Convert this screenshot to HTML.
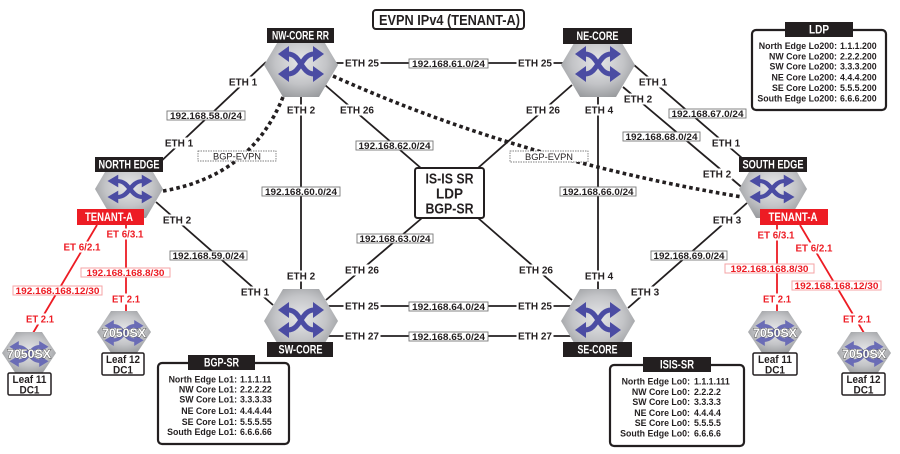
<!DOCTYPE html>
<html><head><meta charset="utf-8"><style>
body{margin:0;background:#fff}
svg{display:block}
text{font-family:"Liberation Sans",Arial,sans-serif}
.e{font-size:10px;font-weight:bold;fill:#231f20;text-anchor:middle}
.r{font-size:10px;font-weight:bold;fill:#ed1c24;text-anchor:middle}
.ip{font-size:9px;font-weight:bold;fill:#231f20;text-anchor:middle}
.ev{font-size:9.5px;fill:#231f20;text-anchor:middle}
.ipr{font-size:9px;font-weight:bold;fill:#ed1c24;text-anchor:middle}
.nl{font-size:11.5px;font-weight:bold;fill:#fff;text-anchor:middle}
.bl{font-size:8.8px;font-weight:bold;fill:#231f20;text-anchor:end}
.bv{font-size:8.8px;font-weight:bold;fill:#231f20}
.lf{font-size:11px;font-weight:bold;fill:#231f20;text-anchor:middle}
.sx{font-size:12px;font-weight:bold;fill:#fff;stroke:#555;stroke-width:0.9;paint-order:stroke;text-anchor:middle}
</style></head><body>
<svg width="900" height="454" viewBox="0 0 900 454" xmlns="http://www.w3.org/2000/svg">
<defs>
<radialGradient id="hg" cx="50%" cy="45%" r="58%">
<stop offset="0" stop-color="#e6e7e9"/><stop offset="0.6" stop-color="#c3c4c7"/><stop offset="1" stop-color="#9a9c9f"/>
</radialGradient>
<g id="ico">
<path d="M-13,-10 C0,-10 0,10 13,10 M-13,10 C0,10 0,-10 13,-10" fill="none" stroke-width="5"/>
<path stroke="none" d="M-23,-10 L-12,-18 L-12,-2Z M23,-10 L12,-18 L12,-2Z M-23,10 L-12,2 L-12,18Z M23,10 L12,2 L12,18Z"/>
</g>
</defs>
<rect width="900" height="454" fill="#fff"/>

<g stroke="#231f20" stroke-width="1.8" fill="none">
<line x1="266" y1="62" x2="155" y2="167"/>
<line x1="325" y1="85" x2="422" y2="169"/>
<line x1="301" y1="90" x2="301" y2="295"/>
<line x1="320" y1="63" x2="580" y2="63"/>
<line x1="572" y1="85" x2="478" y2="168"/>
<line x1="598" y1="90" x2="598" y2="295"/>
<line x1="634" y1="65" x2="742" y2="158"/>
<line x1="623" y1="87" x2="745" y2="190"/>
<line x1="747" y1="203" x2="628" y2="308"/>
<line x1="156" y1="202" x2="273" y2="305"/>
<line x1="326" y1="300" x2="422" y2="218"/>
<line x1="572" y1="300" x2="478" y2="218"/>
<line x1="320" y1="306" x2="580" y2="306"/>
<line x1="320" y1="336" x2="580" y2="336"/>
</g>
<g stroke="#ed1c24" stroke-width="1.8">
<line x1="97" y1="225" x2="33" y2="333"/>
<line x1="126" y1="225" x2="126" y2="312"/>
<line x1="777" y1="225" x2="777" y2="312"/>
<line x1="800" y1="225" x2="864" y2="333"/>
</g>
<g stroke="#231f20" stroke-width="3.6" stroke-dasharray="3.6 3.2" fill="none">
<path d="M283,97 Q251,176 163,191"/>
<path d="M333,76 Q520,160 742,197"/>
</g>

<rect x="198" y="151" width="78" height="10" fill="#fff" stroke="#555" stroke-width="0.7" stroke-dasharray="1.5 1"/>
<text x="237" y="159.5" class="ev" textLength="48" lengthAdjust="spacingAndGlyphs">BGP-EVPN</text>
<rect x="510" y="151" width="78" height="11" fill="#fff" stroke="#555" stroke-width="0.7" stroke-dasharray="1.5 1"/>
<text x="549" y="160" class="ev" textLength="48" lengthAdjust="spacingAndGlyphs">BGP-EVPN</text>

<g fill="#fff" stroke="#777" stroke-width="0.9">
<rect x="167" y="111" width="78" height="9"/>
<rect x="262" y="187" width="78" height="9"/>
<rect x="356" y="141" width="77" height="9"/>
<rect x="409" y="59" width="79" height="9"/>
<rect x="560" y="187" width="76" height="9"/>
<rect x="669" y="109" width="77" height="9"/>
<rect x="623" y="132" width="77" height="9"/>
<rect x="651" y="251" width="76" height="9"/>
<rect x="170" y="251" width="77" height="9"/>
<rect x="357" y="234" width="76" height="9"/>
<rect x="409" y="302" width="79" height="9"/>
<rect x="409" y="332" width="79" height="9"/>
</g>
<g class="ip">
<text x="206" y="119" textLength="72" lengthAdjust="spacingAndGlyphs">192.168.58.0/24</text>
<text x="301" y="195" textLength="72" lengthAdjust="spacingAndGlyphs">192.168.60.0/24</text>
<text x="394.5" y="149" textLength="72" lengthAdjust="spacingAndGlyphs">192.168.62.0/24</text>
<text x="448.5" y="67" textLength="73" lengthAdjust="spacingAndGlyphs">192.168.61.0/24</text>
<text x="598" y="195" textLength="71" lengthAdjust="spacingAndGlyphs">192.168.66.0/24</text>
<text x="707.5" y="117" textLength="72" lengthAdjust="spacingAndGlyphs">192.168.67.0/24</text>
<text x="661.5" y="140" textLength="72" lengthAdjust="spacingAndGlyphs">192.168.68.0/24</text>
<text x="689" y="259" textLength="71" lengthAdjust="spacingAndGlyphs">192.168.69.0/24</text>
<text x="208.5" y="259" textLength="72" lengthAdjust="spacingAndGlyphs">192.168.59.0/24</text>
<text x="395" y="242" textLength="71" lengthAdjust="spacingAndGlyphs">192.168.63.0/24</text>
<text x="448.5" y="310" textLength="73" lengthAdjust="spacingAndGlyphs">192.168.64.0/24</text>
<text x="448.5" y="340" textLength="73" lengthAdjust="spacingAndGlyphs">192.168.65.0/24</text>
</g>

<g fill="#fff" stroke="#f5a3a6" stroke-width="1">
<rect x="13" y="286" width="89" height="9"/>
<rect x="81" y="268" width="89" height="9"/>
<rect x="725" y="264" width="89" height="9"/>
<rect x="792" y="281" width="89" height="9"/>
</g>
<g class="ipr">
<text x="57.5" y="294" textLength="84" lengthAdjust="spacingAndGlyphs">192.168.168.12/30</text>
<text x="125.5" y="276" textLength="78" lengthAdjust="spacingAndGlyphs">192.168.168.8/30</text>
<text x="769.5" y="272" textLength="78" lengthAdjust="spacingAndGlyphs">192.168.168.8/30</text>
<text x="836.5" y="289" textLength="84" lengthAdjust="spacingAndGlyphs">192.168.168.12/30</text>
</g>

<g fill="#fff">
<rect x="227.5" y="76.5" width="31" height="11"/>
<rect x="163.5" y="137.5" width="31" height="11"/>
<rect x="285.5" y="104.5" width="31" height="11"/>
<rect x="338.5" y="104.5" width="37" height="11"/>
<rect x="343.5" y="57.5" width="37" height="11"/>
<rect x="516.5" y="57.5" width="37" height="11"/>
<rect x="524.5" y="104.5" width="37" height="11"/>
<rect x="583.5" y="104.5" width="31" height="11"/>
<rect x="637.5" y="76.5" width="31" height="11"/>
<rect x="622.5" y="93.5" width="31" height="11"/>
<rect x="710.5" y="137.5" width="31" height="11"/>
<rect x="701.5" y="168.5" width="31" height="11"/>
<rect x="711.5" y="214.5" width="31" height="11"/>
<rect x="161.5" y="214.5" width="31" height="11"/>
<rect x="239.5" y="286.5" width="31" height="11"/>
<rect x="285.5" y="270.5" width="31" height="11"/>
<rect x="343.5" y="264.5" width="37" height="11"/>
<rect x="343.5" y="300.5" width="37" height="11"/>
<rect x="343.5" y="330.5" width="37" height="11"/>
<rect x="517.5" y="264.5" width="37" height="11"/>
<rect x="583.5" y="270.5" width="31" height="11"/>
<rect x="629.5" y="286.5" width="31" height="11"/>
<rect x="516.5" y="300.5" width="37" height="11"/>
<rect x="516.5" y="330.5" width="37" height="11"/>
<rect x="62" y="241.5" width="40" height="11"/>
<rect x="24" y="313.5" width="32" height="11"/>
<rect x="105" y="228.5" width="40" height="11"/>
<rect x="110" y="293.5" width="32" height="11"/>
<rect x="756" y="229.5" width="40" height="11"/>
<rect x="761" y="293.5" width="32" height="11"/>
<rect x="794" y="242.5" width="40" height="11"/>
<rect x="841" y="313.5" width="32" height="11"/>
</g>
<g class="e">
<text x="243" y="85.6">ETH 1</text>
<text x="179" y="146.6">ETH 1</text>
<text x="301" y="113.6">ETH 2</text>
<text x="357" y="113.6">ETH 26</text>
<text x="362" y="66.6">ETH 25</text>
<text x="535" y="66.6">ETH 25</text>
<text x="543" y="113.6">ETH 26</text>
<text x="599" y="113.6">ETH 4</text>
<text x="653" y="85.6">ETH 1</text>
<text x="638" y="102.6">ETH 2</text>
<text x="726" y="146.6">ETH 1</text>
<text x="717" y="177.6">ETH 2</text>
<text x="727" y="223.6">ETH 3</text>
<text x="177" y="223.6">ETH 2</text>
<text x="255" y="295.6">ETH 1</text>
<text x="301" y="279.6">ETH 2</text>
<text x="362" y="273.6">ETH 26</text>
<text x="362" y="309.6">ETH 25</text>
<text x="362" y="339.6">ETH 27</text>
<text x="536" y="273.6">ETH 26</text>
<text x="599" y="279.6">ETH 4</text>
<text x="645" y="295.6">ETH 3</text>
<text x="535" y="309.6">ETH 25</text>
<text x="535" y="339.6">ETH 27</text>
</g>
<g class="r">
<text x="82" y="250.6" textLength="37" lengthAdjust="spacingAndGlyphs">ET 6/2.1</text>
<text x="40" y="322.6" textLength="28" lengthAdjust="spacingAndGlyphs">ET 2.1</text>
<text x="125" y="237.6" textLength="37" lengthAdjust="spacingAndGlyphs">ET 6/3.1</text>
<text x="126" y="302.6" textLength="28" lengthAdjust="spacingAndGlyphs">ET 2.1</text>
<text x="776" y="238.6" textLength="37" lengthAdjust="spacingAndGlyphs">ET 6/3.1</text>
<text x="777" y="302.6" textLength="28" lengthAdjust="spacingAndGlyphs">ET 2.1</text>
<text x="814" y="251.6" textLength="37" lengthAdjust="spacingAndGlyphs">ET 6/2.1</text>
<text x="857" y="322.6" textLength="28" lengthAdjust="spacingAndGlyphs">ET 2.1</text>
</g>

<g fill="url(#hg)">
<polygon points="264,65 283,33 319,33 338,65 319,97 283,97"/>
<polygon points="561,65 580,33 616,33 635,65 616,97 580,97"/>
<polygon points="264,321 283,289 319,289 338,321 319,353 283,353"/>
<polygon points="561,321 580,289 616,289 635,321 616,353 580,353"/>
<polygon points="95,189 112,160 146,160 163,189 146,218 112,218"/>
<polygon points="739,189 756,160 790,160 807,189 790,218 756,218"/>
<polygon points="2,353 16,332 42,332 56,353 42,374 16,374"/>
<polygon points="97,332 111,311 137,311 151,332 137,353 111,353"/>
<polygon points="748,332 762,311 788,311 802,332 788,353 762,353"/>
<polygon points="837,353 851,332 877,332 891,353 877,374 851,374"/>
</g>
<g fill="#4b4ca3" stroke="#4b4ca3">
<use href="#ico" transform="translate(301,64)"/>
<use href="#ico" transform="translate(598,64)"/>
<use href="#ico" transform="translate(301,320)"/>
<use href="#ico" transform="translate(598,320)"/>
<use href="#ico" transform="translate(130,189) scale(0.98,0.8)"/>
<use href="#ico" transform="translate(772,189) scale(0.98,0.8)"/>
</g>
<g fill="#6a6cb6" stroke="#6a6cb6">
<use href="#ico" transform="translate(29,354) scale(0.85,0.72)"/>
<use href="#ico" transform="translate(124,333) scale(0.85,0.72)"/>
<use href="#ico" transform="translate(775,333) scale(0.85,0.72)"/>
<use href="#ico" transform="translate(864,354) scale(0.85,0.72)"/>
</g>
<g class="sx">
<text x="29" y="358" textLength="44" lengthAdjust="spacingAndGlyphs">7050SX</text>
<text x="124" y="337" textLength="44" lengthAdjust="spacingAndGlyphs">7050SX</text>
<text x="775" y="337" textLength="44" lengthAdjust="spacingAndGlyphs">7050SX</text>
<text x="864" y="358" textLength="44" lengthAdjust="spacingAndGlyphs">7050SX</text>
</g>

<g fill="#fff" stroke="#231f20" stroke-width="1.5">
<rect x="8" y="373" width="43" height="22" rx="1.5"/>
<rect x="102" y="353" width="42" height="22" rx="1.5"/>
<rect x="753" y="353" width="44" height="22" rx="1.5"/>
<rect x="842" y="373" width="43" height="22" rx="1.5"/>
</g>
<g class="lf">
<text x="29.5" y="383" textLength="34" lengthAdjust="spacingAndGlyphs">Leaf 11</text>
<text x="29.5" y="393.5" textLength="20" lengthAdjust="spacingAndGlyphs">DC1</text>
<text x="123" y="363" textLength="34" lengthAdjust="spacingAndGlyphs">Leaf 12</text>
<text x="123" y="373.5" textLength="20" lengthAdjust="spacingAndGlyphs">DC1</text>
<text x="775" y="363" textLength="34" lengthAdjust="spacingAndGlyphs">Leaf 11</text>
<text x="775" y="373.5" textLength="20" lengthAdjust="spacingAndGlyphs">DC1</text>
<text x="863.5" y="383" textLength="34" lengthAdjust="spacingAndGlyphs">Leaf 12</text>
<text x="863.5" y="393.5" textLength="20" lengthAdjust="spacingAndGlyphs">DC1</text>
</g>

<g fill="#231f20">
<rect x="267" y="28" width="67" height="15"/>
<rect x="563" y="28" width="69" height="16"/>
<rect x="95" y="157" width="68" height="15"/>
<rect x="739" y="157" width="68" height="15"/>
<rect x="267" y="342" width="66" height="15"/>
<rect x="563" y="342" width="69" height="15"/>
</g>
<g fill="#ed1c24">
<rect x="77" y="209" width="67" height="16"/>
<rect x="760" y="209" width="68" height="16"/>
</g>
<g class="nl">
<text x="300.5" y="39.5" textLength="57" lengthAdjust="spacingAndGlyphs">NW-CORE RR</text>
<text x="597.5" y="40" textLength="42" lengthAdjust="spacingAndGlyphs">NE-CORE</text>
<text x="129" y="168.5" textLength="61" lengthAdjust="spacingAndGlyphs">NORTH EDGE</text>
<text x="773" y="168.5" textLength="61" lengthAdjust="spacingAndGlyphs">SOUTH EDGE</text>
<text x="300.5" y="353.5" textLength="44" lengthAdjust="spacingAndGlyphs">SW-CORE</text>
<text x="597.5" y="353.5" textLength="40" lengthAdjust="spacingAndGlyphs">SE-CORE</text>
<text x="109" y="221" textLength="48" lengthAdjust="spacingAndGlyphs">TENANT-A</text>
<text x="793" y="221" textLength="49" lengthAdjust="spacingAndGlyphs">TENANT-A</text>
</g>

<rect x="373" y="10" width="151" height="19" rx="3" fill="#fff" stroke="#231f20" stroke-width="2"/>
<text x="449.5" y="25" font-size="15" font-weight="bold" fill="#231f20" text-anchor="middle" textLength="141" lengthAdjust="spacingAndGlyphs">EVPN IPv4 (TENANT-A)</text>

<rect x="415" y="168" width="69" height="50" rx="2.5" fill="#fff" stroke="#231f20" stroke-width="2"/>
<g font-size="15" font-weight="bold" fill="#231f20" text-anchor="middle">
<text x="449.5" y="183.5" textLength="48" lengthAdjust="spacingAndGlyphs">IS-IS SR</text>
<text x="449.5" y="198.5" textLength="27" lengthAdjust="spacingAndGlyphs">LDP</text>
<text x="449.5" y="213.5" textLength="48" lengthAdjust="spacingAndGlyphs">BGP-SR</text>
</g>

<rect x="752" y="30" width="134" height="80" rx="4" fill="#fff" stroke="#231f20" stroke-width="2.2"/>
<rect x="785" y="22" width="68" height="15" fill="#231f20"/>
<text x="819" y="33.5" class="nl" textLength="20" lengthAdjust="spacingAndGlyphs">LDP</text>
<g>
<text x="837" y="49" class="bl">North Edge Lo200:</text><text x="840" y="49" class="bv">1.1.1.200</text>
<text x="837" y="59.3" class="bl">NW Core Lo200:</text><text x="840" y="59.3" class="bv">2.2.2.200</text>
<text x="837" y="69.3" class="bl">SW Core Lo200:</text><text x="840" y="69.3" class="bv">3.3.3.200</text>
<text x="837" y="80.6" class="bl">NE Core Lo200:</text><text x="840" y="80.6" class="bv">4.4.4.200</text>
<text x="837" y="91" class="bl">SE Core Lo200:</text><text x="840" y="91" class="bv">5.5.5.200</text>
<text x="837" y="101.6" class="bl">South Edge Lo200:</text><text x="840" y="101.6" class="bv">6.6.6.200</text>
</g>

<rect x="158" y="363" width="131" height="81" rx="4" fill="#fff" stroke="#231f20" stroke-width="2.2"/>
<rect x="188" y="355" width="67" height="15" fill="#231f20"/>
<text x="221.5" y="366.5" class="nl" textLength="35" lengthAdjust="spacingAndGlyphs">BGP-SR</text>
<g>
<text x="237" y="382.3" class="bl">North Edge Lo1:</text><text x="240" y="382.3" class="bv">1.1.1.11</text>
<text x="237" y="392.6" class="bl">NW Core Lo1:</text><text x="240" y="392.6" class="bv">2.2.2.22</text>
<text x="237" y="402.6" class="bl">SW Core Lo1:</text><text x="240" y="402.6" class="bv">3.3.3.33</text>
<text x="237" y="414" class="bl">NE Core Lo1:</text><text x="240" y="414" class="bv">4.4.4.44</text>
<text x="237" y="425" class="bl">SE Core Lo1:</text><text x="240" y="425" class="bv">5.5.5.55</text>
<text x="237" y="435" class="bl">South Edge Lo1:</text><text x="240" y="435" class="bv">6.6.6.66</text>
</g>

<rect x="610" y="365" width="134" height="81" rx="4" fill="#fff" stroke="#231f20" stroke-width="2.2"/>
<rect x="643" y="357" width="68" height="15" fill="#231f20"/>
<text x="677" y="368.5" class="nl" textLength="34" lengthAdjust="spacingAndGlyphs">ISIS-SR</text>
<g>
<text x="690" y="384.3" class="bl">North Edge Lo0:</text><text x="694" y="384.3" class="bv">1.1.1.111</text>
<text x="690" y="395" class="bl">NW Core Lo0:</text><text x="694" y="395" class="bv">2.2.2.2</text>
<text x="690" y="405" class="bl">SW Core Lo0:</text><text x="694" y="405" class="bv">3.3.3.3</text>
<text x="690" y="416" class="bl">NE Core Lo0:</text><text x="694" y="416" class="bv">4.4.4.4</text>
<text x="690" y="426" class="bl">SE Core Lo0:</text><text x="694" y="426" class="bv">5.5.5.5</text>
<text x="690" y="436.6" class="bl">South Edge Lo0:</text><text x="694" y="436.6" class="bv">6.6.6.6</text>
</g>
</svg>
</body></html>
